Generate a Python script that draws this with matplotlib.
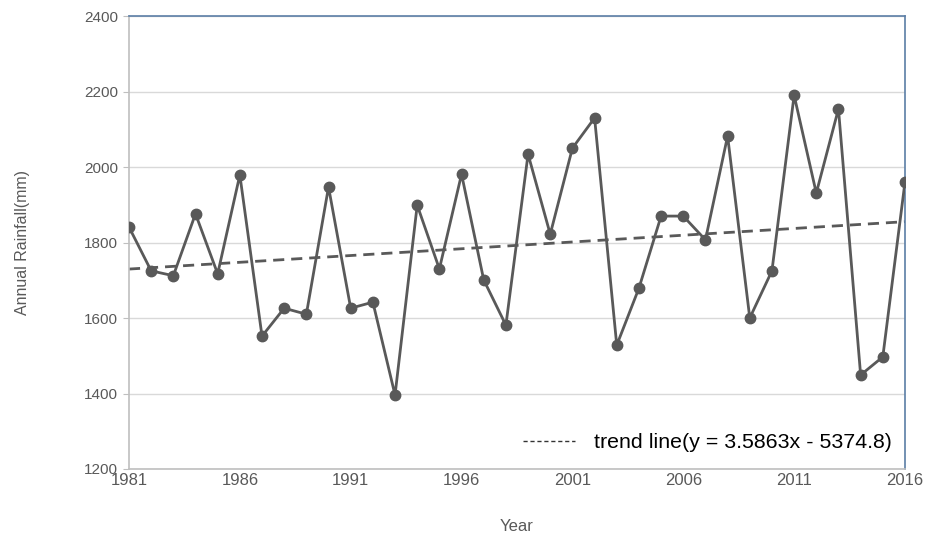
import matplotlib
matplotlib.use("Agg")
import matplotlib.pyplot as plt
import numpy as np

years = list(range(1981, 2017))
rainfall = [1841, 1725, 1712, 1876, 1717, 1979, 1552, 1626, 1610, 1947,
            1626, 1642, 1396, 1899, 1730, 1981, 1701, 1581, 2034, 1822,
            2050, 2130, 1528, 1679, 1870, 1870, 1807, 2082, 1600, 1725,
            2190, 1931, 2154, 1449, 1497, 1960]
trend_slope = 3.5863
trend_intercept = -5374.8
trend_label = "trend line(y = 3.5863x - 5374.8)"
xticks = [1981, 1986, 1991, 1996, 2001, 2006, 2011, 2016]
yticks = [1200, 1400, 1600, 1800, 2000, 2200, 2400]

plt.rcParams['font.family'] = ['Liberation Sans', 'DejaVu Sans']

fig = plt.figure(figsize=(9.32, 5.47), dpi=100)
ax = fig.add_axes([0.1384, 0.1426, 0.9710 - 0.1384, 0.9707 - 0.1426])

grey = '#595959'
ax.plot(years, rainfall, color=grey, lw=2.0, marker='o', ms=7.5, zorder=3)
yrs = np.array(years, dtype=float)
trend = trend_slope * yrs + trend_intercept
ln, = ax.plot(years, trend, color=grey, lw=2.0, ls=(0, (4, 2.5)), zorder=2, label=trend_label)

ax.set_xlim(1981, 2016)
ax.set_ylim(1200, 2400)
ax.set_xticks(xticks)
ax.set_yticks(yticks)
ax.grid(axis='y', color='#d9d9d9', lw=1.0)
ax.set_axisbelow(True)

for s in ['left', 'bottom']:
    ax.spines[s].set_color('#bfbfbf')
    ax.spines[s].set_linewidth(1.2)
for s in ['top', 'right']:
    ax.spines[s].set_color('#5b7ea6')
    ax.spines[s].set_linewidth(1.2)

ax.tick_params(axis='y', length=4, color='#bfbfbf', labelsize=11, labelcolor=grey, pad=4)
ax.tick_params(axis='x', length=0, labelsize=12, labelcolor=grey, pad=3)

ax.set_ylabel("Annual Rainfall(mm)", fontsize=11.5, color=grey, labelpad=39)
ax.set_xlabel("Year", fontsize=12, color=grey, labelpad=22)

leg = ax.legend(loc='lower right', frameon=False, fontsize=15.4, handlelength=2.4,
                handletextpad=0.9, bbox_to_anchor=(1.008, -0.005))
for h in leg.legend_handles:
    h.set_linewidth(1.0)
    h.set_color('#333333')
    h.set_linestyle((0, (3, 2)))

fig.savefig("out.png", dpi=100)
